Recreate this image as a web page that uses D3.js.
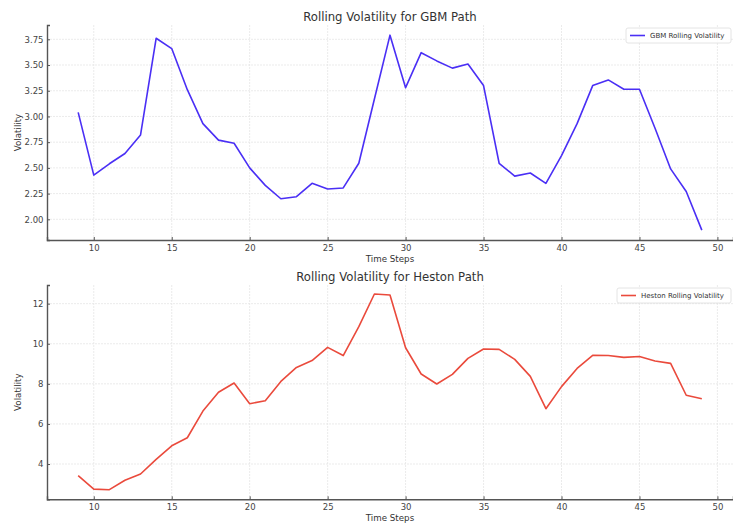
<!DOCTYPE html>
<html><head><meta charset="utf-8">
<script src="https://cdn.jsdelivr.net/npm/d3@7"></script>
<style>body{margin:0;background:#fff;}svg{display:block;font-family:"DejaVu Sans",sans-serif;}</style>
</head><body><svg id="c" width="733" height="525"></svg>
<script>
const timeSteps = d3.range(9, 50);
const gbmVol = [3.04,2.43,2.54,2.64,2.82,3.76,3.66,3.26,2.93,2.77,2.74,2.50,2.33,2.20,2.22,2.35,2.295,2.305,2.545,3.17,3.79,3.28,3.62,3.54,3.47,3.51,3.30,2.545,2.42,2.45,2.35,2.62,2.93,3.30,3.355,3.265,3.265,2.885,2.49,2.27,1.895];
const hestonVol = [3.42,2.75,2.72,3.19,3.50,4.23,4.91,5.31,6.64,7.58,8.04,7.01,7.16,8.12,8.82,9.16,9.82,9.41,10.85,12.48,12.43,9.80,8.49,7.99,8.47,9.27,9.74,9.72,9.22,8.37,6.76,7.86,8.77,9.42,9.41,9.32,9.36,9.14,9.02,7.43,7.26];
const xTicks = [10,15,20,25,30,35,40,45,50];
const gbmTicks = [2.00,2.25,2.50,2.75,3.00,3.25,3.50,3.75];
const hestonTicks = [4,6,8,10,12];

const svg = d3.select("#c");
const L = 47, R = 733;

function panel(cfg){
  const x = d3.scaleLinear().domain([7,51]).range([L,R]);
  const y = d3.scaleLinear().domain(cfg.ydom).range([cfg.bottom,cfg.top]);
  const g = svg.append("g");
  g.append("g").selectAll("line").data(xTicks).join("line")
    .attr("x1",d=>x(d)).attr("x2",d=>x(d)).attr("y1",cfg.top).attr("y2",cfg.bottom)
    .attr("stroke","#e6e6e6").attr("stroke-width",0.8).attr("stroke-dasharray","2,1");
  g.append("g").selectAll("line").data(cfg.yticks).join("line")
    .attr("y1",d=>y(d)).attr("y2",d=>y(d)).attr("x1",L).attr("x2",R)
    .attr("stroke","#e6e6e6").attr("stroke-width",0.8).attr("stroke-dasharray","2,1");
  const line = d3.line().x((d,i)=>x(timeSteps[i])).y(d=>y(d));
  g.append("path").datum(cfg.data).attr("d",line).attr("fill","none")
    .attr("stroke",cfg.color).attr("stroke-width",1.6).attr("stroke-linejoin","round");
  const xa = g.append("g").attr("transform",`translate(0,${cfg.bottom})`)
    .call(d3.axisBottom(x).tickValues(xTicks).tickSize(-3).tickPadding(5).tickFormat(d3.format("d")));
  const ya = g.append("g").attr("transform",`translate(${L},0)`)
    .call(d3.axisLeft(y).tickValues(cfg.yticks).tickSize(-3).tickPadding(3.5).tickFormat(cfg.fmt));
  [xa,ya].forEach(a=>{
    a.select(".domain").attr("stroke","#555").attr("stroke-width",1.4);
    a.selectAll(".tick line").attr("stroke","#555");
    a.selectAll(".tick text").attr("fill","#444").attr("font-size","8.5px").attr("font-family","DejaVu Sans");
  });
  svg.append("text").attr("x",(L+R)/2).attr("y",cfg.top-4.5).attr("text-anchor","middle")
    .attr("font-size","11.7px").attr("fill","#333").text(cfg.title);
  svg.append("text").attr("x",(L+R)/2).attr("y",cfg.bottom+22).attr("text-anchor","middle")
    .attr("font-size","8.7px").attr("fill","#333").text("Time Steps");
  svg.append("text").attr("transform",`translate(21,${(cfg.top+cfg.bottom)/2}) rotate(-90)`)
    .attr("text-anchor","middle").attr("font-size","8.7px").attr("fill","#333").text("Volatility");
  const lg = svg.append("g");
  lg.append("rect").attr("x",cfg.legX).attr("y",cfg.top+3).attr("width",R-2-cfg.legX).attr("height",15)
    .attr("rx",2).attr("fill","#fff").attr("fill-opacity",0.85).attr("stroke","#ddd").attr("stroke-width",0.8);
  lg.append("line").attr("x1",cfg.legX+4).attr("x2",cfg.legX+19).attr("y1",cfg.top+10.5).attr("y2",cfg.top+10.5)
    .attr("stroke",cfg.color).attr("stroke-width",1.6);
  lg.append("text").attr("x",cfg.legX+24).attr("y",cfg.top+13).attr("font-size","7px").attr("fill","#333").text(cfg.legend);
}

panel({data:gbmVol,ydom:[1.799,3.889],top:25,bottom:240,yticks:gbmTicks,fmt:d3.format(".2f"),
  color:"#4a2ff5",title:"Rolling Volatility for GBM Path",legend:"GBM Rolling Volatility",legX:626});
panel({data:hestonVol,ydom:[2.24,12.93],top:285,bottom:499.3,yticks:hestonTicks,fmt:d3.format("d"),
  color:"#ea4a3c",title:"Rolling Volatility for Heston Path",legend:"Heston Rolling Volatility",legX:617});
</script></body></html>
